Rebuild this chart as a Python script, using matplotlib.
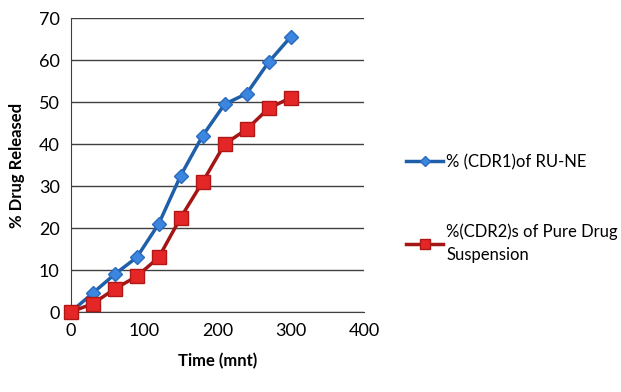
import matplotlib.pyplot as plt

plt.rcParams['font.family'] = ['Lato', 'DejaVu Sans']

time = [0, 30, 60, 90, 120, 150, 180, 210, 240, 270, 300]
cdr1 = [0, 4.5, 9, 13, 21, 32.5, 42, 49.5, 52, 59.5, 65.5]
cdr2 = [0, 2, 5.5, 8.5, 13, 22.5, 31, 40, 43.5, 48.5, 51]
labels = ['% (CDR1)of RU-NE', '%(CDR2)s of Pure Drug\nSuspension']

fig = plt.figure(figsize=(6.21, 3.92), dpi=100)
ax = fig.add_axes([0.114, 0.204, 0.472, 0.75])

ax.plot(time, cdr1, color='#1f5faa', lw=2.5, marker='D', ms=7,
        mfc='#3d86e0', mec='#2a6bc0', label=labels[0], zorder=3)
ax.plot(time, cdr2, color='#a51515', lw=2.5, marker='s', ms=10,
        mfc='#e52626', mec='#b01818', label=labels[1], zorder=3)

ax.set_xlim(0, 400)
ax.set_ylim(0, 70)
ax.set_xticks(range(0, 401, 100))
ax.set_yticks(range(0, 71, 10))
ax.yaxis.grid(True, color='#404040', lw=1)
ax.set_axisbelow(True)
for s in ['top', 'right']:
    ax.spines[s].set_visible(False)
ax.spines['left'].set_color('#404040')
ax.spines['bottom'].set_color('#404040')
ax.tick_params(length=0, labelsize=13, pad=8)
ax.set_xlabel('Time (mnt)', fontsize=12, fontweight='bold', labelpad=10)
ax.set_ylabel('% Drug Released', fontsize=12, fontweight='bold', labelpad=10)
for ln in ax.lines:
    ln.set_clip_on(False)

leg = fig.legend(loc='upper left', bbox_to_anchor=(0.63, 0.645), frameon=False,
                 fontsize=12, labelspacing=3.2, handlelength=2.2,
                 handletextpad=0.2, markerscale=0.75)
for t in leg.get_texts():
    t.set_linespacing(1.5)

plt.savefig('out.png', dpi=100)
